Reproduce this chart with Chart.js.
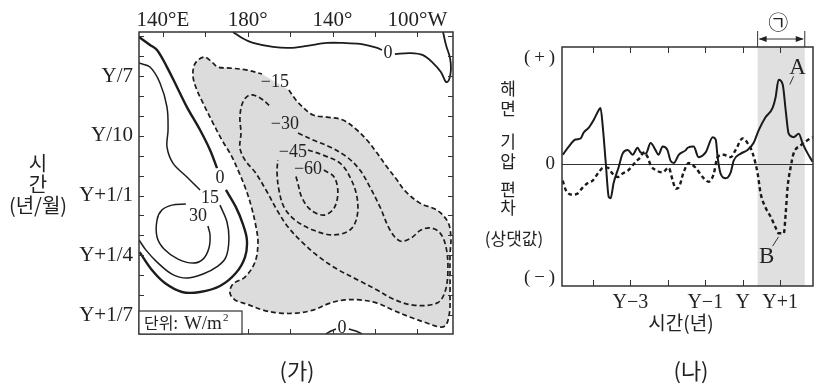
<!DOCTYPE html>
<html>
<head>
<meta charset="utf-8">
<script src="https://cdn.jsdelivr.net/npm/chart.js@4/dist/chart.umd.min.js"></script>
<style>
  html, body { margin: 0; padding: 0; background: #fff; }
  #wrap { position: relative; width: 816px; height: 386px; overflow: hidden; background: #fff; }
  canvas { position: absolute; top: 0; }
  #mapCanvas { left: 0; width: 470px; height: 386px; }
  #slpCanvas { left: 470px; width: 346px; height: 386px; }
</style>
</head>
<body>
<div id="wrap">
  <canvas id="mapCanvas" width="470" height="386"></canvas>
  <canvas id="slpCanvas" width="346" height="386"></canvas>
</div>
<script>
// (가) longitude-time section, contours as [lon °E, month] pairs
const lonTicks = [140, 180, 220, 260];
const lonTickLabels = ['140°E', '180°', '140°', '100°W'];
const lonMinor = [140, 160, 180, 200, 220, 240, 260];
const monthTicks = [7, 10, 13, 16, 19];
const monthTickLabels = ['Y/7', 'Y/10', 'Y+1/1', 'Y+1/4', 'Y+1/7'];
const monthMinor = [5, 6, 7, 8, 9, 10, 11, 12, 13, 14, 15, 16, 17, 18, 19];

const negFifteen = [[199.4,7.70],[202.7,8.20],[206.0,8.56],[210.8,8.96],[217.4,9.06],[224.9,9.21],[231.5,9.71],[236.2,10.21],[241.0,10.87],[245.7,11.57],[250.4,12.22],[254.2,12.77],[261.2,13.38],[269.2,13.73],[274.4,14.33],[275.8,15.08],[275.4,15.98],[275.4,16.99],[275.4,17.99],[275.2,18.84],[273.5,19.50],[270.7,19.60],[264.5,19.40],[256.5,19.10],[248.5,18.75],[241.0,18.40],[232.9,18.24],[225.8,18.24],[218.8,18.40],[210.8,18.75],[203.2,18.90],[195.2,18.90],[187.2,18.75],[179.6,18.45],[174.0,18.24],[171.6,17.89],[173.0,17.44],[178.7,17.09],[183.4,16.34],[184.8,15.38],[183.9,14.58],[181.5,13.48],[178.7,12.57],[175.4,11.72],[172.1,10.97],[167.8,10.21],[163.6,9.36],[158.9,8.36],[156.0,7.70],[154.2,7.05],[154.6,6.50],[156.5,6.20],[159.8,6.05],[163.1,6.30],[165.9,6.55],[171.6,6.60],[179.6,6.70],[186.7,6.90]];
const negThirty = [[203.7,9.86],[210.8,10.21],[218.8,10.56],[226.8,11.07],[232.9,11.72],[237.6,12.57],[242.4,13.58],[247.1,14.73],[251.8,15.28],[257.0,15.13],[261.7,14.73],[266.4,14.63],[270.7,14.88],[273.5,15.58],[274.4,16.74],[273.0,17.84],[269.2,18.40],[257.9,18.50],[248.5,18.19],[241.0,17.74],[232.9,17.29],[222.1,16.69],[213.1,16.04],[206.0,15.38],[199.0,14.58],[193.8,13.73],[188.6,12.72],[183.4,11.82],[178.7,11.22],[176.3,10.61],[176.8,9.86],[176.3,9.06],[177.7,8.31],[181.0,7.95],[185.8,8.10],[190.5,8.51]];
const negFortyFive = [[208.4,10.71],[215.5,10.97],[223.5,11.37],[228.2,12.07],[231.5,13.07],[231.5,14.08],[228.2,14.73],[220.2,14.98],[210.8,14.73],[202.3,14.23],[197.1,13.58],[194.7,12.72],[193.8,11.82],[194.2,11.22]];
const negSixty = [[215.9,11.72],[220.7,12.07],[222.5,12.82],[220.7,13.63],[215.9,13.98],[209.8,13.73],[205.6,13.12],[203.7,12.42],[202.7,12.02]];
const zeroWestA = [[128.7,5.04],[133.9,5.44],[137.2,5.69],[141.9,6.55],[146.6,7.55],[151.3,8.56],[157.5,9.71],[162.2,10.71],[165.5,11.62]];
const zeroWestB = [[169.7,12.72],[174.4,13.58],[177.7,14.43],[179.6,15.23],[178.7,16.09],[174.4,16.89],[166.9,17.54],[157.5,17.84],[149.0,17.84],[140.9,17.39],[134.8,16.74],[129.0,15.84]];
const fifteenA = [[128.7,6.35],[133.9,6.55],[138.6,7.35],[141.9,8.56],[142.4,9.71],[141.9,10.56],[144.7,11.37],[151.3,12.07],[157.5,12.72]];
const fifteenB = [[166.9,13.48],[170.2,14.33],[171.1,15.23],[169.7,16.09],[165.9,16.54],[158.9,16.94],[151.3,17.14],[144.2,16.94],[137.2,16.34],[132.0,15.74],[128.7,15.23]];
const thirty = [[150.8,13.43],[144.2,13.48],[139.5,13.73],[137.2,14.23],[137.2,15.08],[140.5,15.68],[147.1,16.19],[154.2,16.39],[158.9,16.19],[161.7,15.63],[162.2,14.98],[161.2,14.53]];
const zeroTopA = [[173.0,4.79],[177.3,5.09],[182.5,5.34],[191.9,5.54],[199.9,5.59],[207.9,5.49],[217.4,5.34],[224.9,5.34],[232.9,5.39],[241.0,5.59],[243.3,5.69]];
const zeroTopB = [[249.4,5.90],[256.5,5.85],[262.6,5.95],[267.4,6.35],[271.1,6.80],[273.5,7.30],[274.9,7.20],[275.8,6.70],[275.4,6.10],[273.5,5.44],[272.1,4.79]];
const zeroBotA = [[216.9,19.95],[219.3,19.80],[221.6,19.70]];
const zeroBotB = [[227.7,19.70],[231.0,19.80],[233.9,19.95]];

const contourLabelText = ['−15', '−30', '−45', '−60', '0', '15', '30', '0', '0'];
const contourLabelLon = [192.8, 197.5, 201.3, 208.4, 166.9, 162.2, 156.5, 246.1, 224.4];
const contourLabelMonth = [7.30, 9.41, 10.82, 11.67, 12.12, 13.12, 14.03, 5.85, 19.65];

// (나) sea level pressure anomaly, years relative to Y
const yearTicks = [-4, -3, -2, -1, 0, 1];
const yearTickLabels = ['', 'Y−3', '', 'Y−1', 'Y', 'Y+1'];
const valueTicks = [-0.97, 0, 0.91];
const valueTickLabels = ['(\u2009−\u2009)', '0', '(\u2009+\u2009)'];
const bandRange = [0.40, 1.66];

const aYear = [-4.81,-4.65,-4.47,-4.33,-4.25,-4.12,-3.98,-3.85,-3.80,-3.74,-3.66,-3.58,-3.53,-3.45,-3.32,-3.21,-3.07,-2.94,-2.81,-2.73,-2.59,-2.46,-2.33,-2.25,-2.14,-2.01,-1.93,-1.84,-1.71,-1.52,-1.47,-1.31,-1.18,-0.99,-0.80,-0.72,-0.67,-0.59,-0.45,-0.32,-0.24,-0.05,0.13,0.29,0.43,0.61,0.80,0.88,0.96,1.07,1.15,1.23,1.36,1.50,1.60,1.74,1.87];
const aValue = [0.08,0.15,0.21,0.22,0.27,0.31,0.38,0.46,0.48,0.32,0.01,-0.28,-0.29,-0.16,-0.03,0.09,0.12,0.08,0.14,0.10,0.09,0.18,0.12,0.08,0.15,0.12,0.03,0.01,0.08,0.12,0.14,0.15,0.06,0.10,0.23,0.21,0.06,-0.08,-0.12,-0.07,0.03,0.09,0.12,0.18,0.29,0.40,0.48,0.57,0.72,0.68,0.46,0.26,0.23,0.26,0.18,0.09,0.02];
const bYear = [-4.81,-4.73,-4.55,-4.41,-4.28,-4.14,-4.01,-3.85,-3.72,-3.61,-3.48,-3.34,-3.21,-3.05,-2.86,-2.73,-2.65,-2.54,-2.46,-2.33,-2.14,-1.98,-1.87,-1.79,-1.71,-1.58,-1.44,-1.26,-1.07,-0.91,-0.78,-0.67,-0.51,-0.32,-0.19,0,0.13,0.27,0.40,0.48,0.61,0.75,0.88,0.96,1.10,1.15,1.20,1.28,1.36,1.55,1.76,1.88];
const bValue = [-0.14,-0.22,-0.26,-0.25,-0.20,-0.16,-0.14,-0.07,-0.03,-0.03,-0.08,-0.11,-0.08,-0.05,0.02,0.06,0.10,0.06,-0.01,-0.05,-0.07,-0.03,-0.14,-0.21,-0.20,-0.07,0.01,-0.03,-0.11,-0.15,-0.09,0.06,0.08,0.06,0.12,0.22,0.18,0.09,-0.08,-0.25,-0.37,-0.45,-0.54,-0.59,-0.59,-0.42,-0.20,-0.03,0.09,0.16,0.21,0.23];
const seriesLabelText = ['A', 'B'];
const seriesLabelYear = [1.47, 0.64];
const seriesLabelValue = [0.82, -0.79];
const leaderFrom = [[1.26, 0.68], [0.96, -0.62]];
const leaderTo = [[1.36, 0.75], [0.80, -0.70]];

const SERIF = "'Liberation Serif', 'DejaVu Serif', serif";
const KR = "'Noto Sans CJK KR', sans-serif";
const INK = '#222';

const toXY = pts => pts.map(p => ({ x: p[0], y: p[1] }));
const contour = (pts, extra) => Object.assign({
    data: toXY(pts),
    borderColor: '#1c1c1c',
    borderWidth: 1.5,
    pointRadius: 0,
    tension: 0.35,
    fill: false,
    order: 0
}, extra);
const dashed = { borderDash: [5, 3], borderWidth: 1.7 };

const mapDecor = {
    id: 'mapDecor',
    afterDatasetsDraw(chart) {
        const { ctx, scales: { x, y } } = chart;
        ctx.save();
        ctx.font = `18px ${SERIF}`;
        ctx.fillStyle = INK;
        ctx.textAlign = 'center';
        ctx.textBaseline = 'middle';
        contourLabelText.forEach((t, i) => {
            ctx.fillText(t, x.getPixelForValue(contourLabelLon[i]), y.getPixelForValue(contourLabelMonth[i]));
        });
        ctx.restore();
    },
    afterDraw(chart) {
        const { ctx, chartArea: a, scales: { x, y } } = chart;
        ctx.save();
        ctx.strokeStyle = '#333';
        ctx.lineWidth = 1.5;
        ctx.strokeRect(a.left, a.top, a.right - a.left, a.bottom - a.top);
        ctx.lineWidth = 1;
        ctx.beginPath();
        lonMinor.forEach(v => {
            const px = Math.round(x.getPixelForValue(v)) + 0.5;
            ctx.moveTo(px, a.top); ctx.lineTo(px, a.top + 5);
            ctx.moveTo(px, a.bottom); ctx.lineTo(px, a.bottom - 5);
        });
        monthMinor.forEach(v => {
            const py = Math.round(y.getPixelForValue(v)) + 0.5;
            ctx.moveTo(a.left, py); ctx.lineTo(a.left + 5, py);
            ctx.moveTo(a.right, py); ctx.lineTo(a.right - 5, py);
        });
        ctx.stroke();

        // unit box
        ctx.fillStyle = '#fff';
        ctx.fillRect(a.left, a.bottom - 23, 103, 23);
        ctx.lineWidth = 1.2;
        ctx.strokeRect(a.left, a.bottom - 23, 103, 23);
        ctx.fillStyle = INK;
        ctx.textAlign = 'left';
        ctx.textBaseline = 'middle';
        let tx = a.left + 5;
        ctx.font = `16px ${KR}`;
        ctx.fillText('단위:', tx, a.bottom - 11);
        tx += ctx.measureText('단위:').width + 6;
        ctx.font = `19px ${SERIF}`;
        ctx.fillText('W/m', tx, a.bottom - 10);
        tx += ctx.measureText('W/m').width + 1;
        ctx.font = `11px ${SERIF}`;
        ctx.fillText('2', tx, a.bottom - 16);

        // axis title
        ctx.textAlign = 'center';
        ctx.font = `20px ${KR}`;
        ctx.fillText('시', 38, 163);
        ctx.fillText('간', 38, 184);
        ctx.fillText('(년/월)', 38, 205);

        ctx.font = `22px ${KR}`;
        ctx.fillText('(가)', 297, 371);
        ctx.restore();
    }
};

new Chart(document.getElementById('mapCanvas'), {
    type: 'line',
    data: {
        datasets: [
            contour(negFifteen, { fill: 'shape', backgroundColor: '#dcdcdc', borderWidth: 0, order: 1 }),
            contour(negFifteen, dashed),
            contour(negThirty, dashed),
            contour(negFortyFive, dashed),
            contour(negSixty, dashed),
            contour(zeroWestA, { borderWidth: 2.4 }),
            contour(zeroWestB, { borderWidth: 2.4 }),
            contour(fifteenA),
            contour(fifteenB),
            contour(thirty),
            contour(zeroTopA, { borderWidth: 1.8 }),
            contour(zeroTopB, { borderWidth: 1.8 }),
            contour(zeroBotA),
            contour(zeroBotB)
        ]
    },
    options: {
        responsive: false,
        animation: false,
        layout: { padding: { left: 0, right: 17, top: 0, bottom: 52 } },
        plugins: { legend: { display: false }, tooltip: { enabled: false } },
        scales: {
            x: {
                type: 'linear',
                position: 'top',
                min: 128.7,
                max: 276.8,
                grid: { display: false, drawTicks: false },
                border: { display: false },
                afterBuildTicks: s => { s.ticks = lonTicks.map(v => ({ value: v })); },
                afterFit: s => { s.height = 32; },
                ticks: {
                    callback: (v, i) => lonTickLabels[i],
                    font: { family: SERIF, size: 21 },
                    color: INK,
                    padding: -1,
                    autoSkip: false,
                    maxRotation: 0
                }
            },
            y: {
                type: 'linear',
                reverse: true,
                min: 4.79,
                max: 19.95,
                grid: { display: false, drawTicks: false },
                border: { display: false },
                afterBuildTicks: s => { s.ticks = monthTicks.map(v => ({ value: v })); },
                afterFit: s => { s.width = 139; },
                ticks: {
                    callback: (v, i) => monthTickLabels[i],
                    font: { family: SERIF, size: 21 },
                    color: INK,
                    padding: 6,
                    autoSkip: false
                }
            }
        }
    },
    plugins: [mapDecor]
});

const slpDecor = {
    id: 'slpDecor',
    beforeDatasetsDraw(chart) {
        const { ctx, chartArea: a, scales: { x, y } } = chart;
        const x0 = x.getPixelForValue(bandRange[0]);
        const x1 = x.getPixelForValue(bandRange[1]);
        ctx.save();
        ctx.fillStyle = '#e0e0e0';
        ctx.fillRect(x0, a.top, x1 - x0, a.bottom - a.top);
        const y0 = Math.round(y.getPixelForValue(0)) + 0.5;
        ctx.strokeStyle = '#333';
        ctx.lineWidth = 1;
        ctx.beginPath();
        ctx.moveTo(a.left, y0);
        ctx.lineTo(a.right, y0);
        ctx.stroke();
        ctx.restore();
    },
    afterDraw(chart) {
        const { ctx, chartArea: a, scales: { x, y } } = chart;
        ctx.save();
        ctx.strokeStyle = '#333';
        ctx.lineWidth = 1.5;
        ctx.strokeRect(a.left, a.top, a.right - a.left, a.bottom - a.top);
        ctx.lineWidth = 1;
        ctx.beginPath();
        yearTicks.forEach(v => {
            const px = Math.round(x.getPixelForValue(v)) + 0.5;
            ctx.moveTo(px, a.top); ctx.lineTo(px, a.top + 6);
            ctx.moveTo(px, a.bottom); ctx.lineTo(px, a.bottom - 6);
        });
        ctx.stroke();

        // bracket ㉠ over the shaded period
        const x0 = x.getPixelForValue(bandRange[0]);
        const x1 = x.getPixelForValue(bandRange[1]);
        const ay = a.top - 8;
        ctx.beginPath();
        ctx.moveTo(x0, a.top - 16); ctx.lineTo(x0, a.top);
        ctx.moveTo(x1, a.top - 16); ctx.lineTo(x1, a.top);
        ctx.moveTo(x0 + 2, ay); ctx.lineTo(x1 - 2, ay);
        ctx.stroke();
        ctx.fillStyle = INK;
        ctx.beginPath();
        ctx.moveTo(x0 + 1, ay); ctx.lineTo(x0 + 9, ay - 3); ctx.lineTo(x0 + 9, ay + 3); ctx.closePath();
        ctx.moveTo(x1 - 1, ay); ctx.lineTo(x1 - 9, ay - 3); ctx.lineTo(x1 - 9, ay + 3); ctx.closePath();
        ctx.fill();
        ctx.textAlign = 'center';
        ctx.textBaseline = 'middle';
        ctx.font = `20px ${KR}`;
        ctx.fillText('㉠', (x0 + x1) / 2 - 3, 22);

        // series labels and leaders
        ctx.lineWidth = 1;
        ctx.beginPath();
        leaderFrom.forEach((p, i) => {
            ctx.moveTo(x.getPixelForValue(p[0]), y.getPixelForValue(p[1]));
            ctx.lineTo(x.getPixelForValue(leaderTo[i][0]), y.getPixelForValue(leaderTo[i][1]));
        });
        ctx.stroke();
        ctx.font = `23px ${SERIF}`;
        seriesLabelText.forEach((t, i) => {
            ctx.fillText(t, x.getPixelForValue(seriesLabelYear[i]), y.getPixelForValue(seriesLabelValue[i]));
        });

        // axis titles
        ctx.font = `17px ${KR}`;
        [['해', 89], ['면', 109], ['기', 142], ['압', 162], ['편', 190], ['차', 208]].forEach(c => {
            ctx.fillText(c[0], 38, c[1]);
        });
        ctx.fillText('(상댓값)', 44, 239);
        ctx.font = `19px ${KR}`;
        ctx.fillText('시간(년)', 211, 323);
        ctx.font = `22px ${KR}`;
        ctx.fillText('(나)', 221, 371);
        ctx.restore();
    }
};

new Chart(document.getElementById('slpCanvas'), {
    type: 'line',
    data: {
        datasets: [
            {
                data: aYear.map((v, i) => ({ x: v, y: aValue[i] })),
                borderColor: '#1a1a1a',
                borderWidth: 2,
                pointRadius: 0,
                cubicInterpolationMode: 'monotone',
                fill: false
            },
            {
                data: bYear.map((v, i) => ({ x: v, y: bValue[i] })),
                borderColor: '#1a1a1a',
                borderWidth: 2.4,
                borderDash: [4, 3],
                pointRadius: 0,
                cubicInterpolationMode: 'monotone',
                fill: false
            }
        ]
    },
    options: {
        responsive: false,
        animation: false,
        layout: { padding: { left: 0, right: 3, top: 47, bottom: 70 } },
        plugins: { legend: { display: false }, tooltip: { enabled: false } },
        scales: {
            x: {
                type: 'linear',
                min: -4.83,
                max: 1.88,
                grid: { display: false, drawTicks: false },
                border: { display: false },
                afterBuildTicks: s => { s.ticks = yearTicks.map(v => ({ value: v })); },
                afterFit: s => { s.height = 30; },
                ticks: {
                    callback: (v, i) => yearTickLabels[i],
                    font: { family: SERIF, size: 20 },
                    color: INK,
                    padding: 5,
                    autoSkip: false,
                    maxRotation: 0
                }
            },
            y: {
                type: 'linear',
                min: -1.04,
                max: 1.0,
                grid: { display: false, drawTicks: false },
                border: { display: false },
                afterBuildTicks: s => { s.ticks = valueTicks.map(v => ({ value: v })); },
                afterFit: s => { s.width = 92; },
                ticks: {
                    callback: (v, i) => valueTickLabels[i],
                    font: { family: SERIF, size: 19 },
                    color: INK,
                    padding: 7,
                    autoSkip: false
                }
            }
        }
    },
    plugins: [slpDecor]
});
</script>
</body>
</html>
